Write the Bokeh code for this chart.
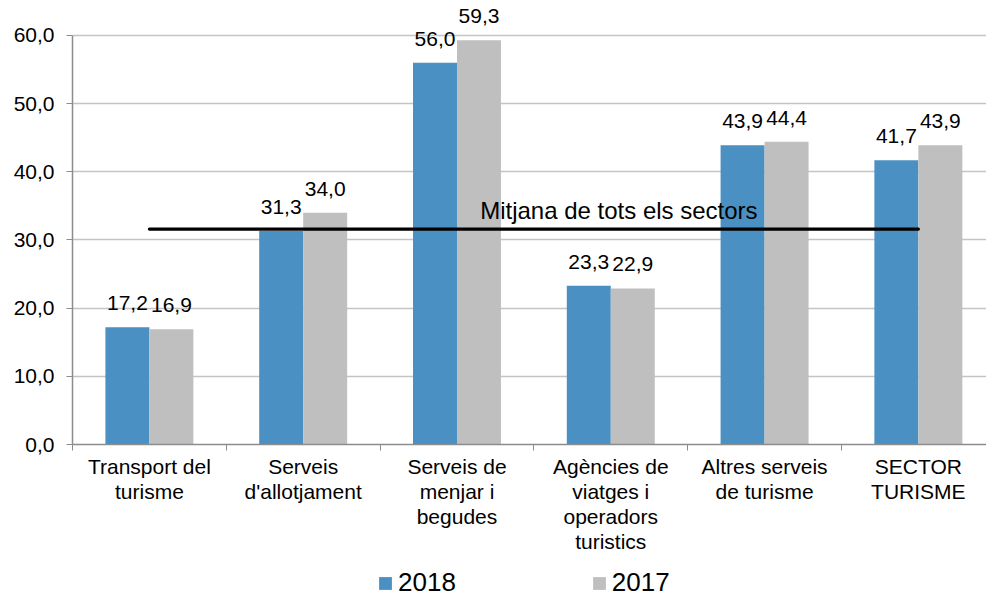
from bokeh.plotting import figure
from bokeh.layouts import column
from bokeh.models import ColumnDataSource, FixedTicker, Range1d, Legend, LegendItem
from bokeh.core.properties import value
from bokeh.embed import file_html
from bokeh.resources import INLINE

# ---------------- data ----------------
categories = [
    "Transport del\nturisme",
    "Serveis\nd'allotjament",
    "Serveis de\nmenjar i\nbegudes",
    "Agències de\nviatges i\noperadors\nturistics",
    "Altres serveis\nde turisme",
    "SECTOR\nTURISME",
]
values_2018 = [17.2, 31.3, 56.0, 23.3, 43.9, 41.7]
values_2017 = [16.9, 34.0, 59.3, 22.9, 44.4, 43.9]
series_names = ["2018", "2017"]
average_all = 31.6
average_label = "Mitjana de tots els sectors"
y_ticks = [0, 10, 20, 30, 40, 50, 60]
y_tick_labels = ["0,0", "10,0", "20,0", "30,0", "40,0", "50,0", "60,0"]

# ---------------- style ----------------
FONT = "Liberation Sans"
BLUE = "#4A90C3"
GREY = "#BFBFBF"
AXIS = "#8C8C8C"
GRID = "#C4C4C4"
BAR_W = 0.286
W = 986
H_MAIN = 566
H_LEG = 32

def fmt(v):
    return f"{v:.1f}".replace(".", ",")

n = len(categories)
centers = [i + 0.5 for i in range(n)]
src = ColumnDataSource(dict(
    x18=[c - BAR_W / 2 for c in centers],
    x17=[c + BAR_W / 2 for c in centers],
    v18=values_2018,
    v17=values_2017,
    l18=[fmt(v) for v in values_2018],
    l17=[fmt(v) for v in values_2017],
))

p = figure(width=W, height=H_MAIN, output_backend="svg", toolbar_location=None,
           x_range=Range1d(0, 5.943), y_range=Range1d(0, 65.13),
           min_border_left=72, min_border_right=0, min_border_top=0,
           min_border_bottom=H_MAIN - 444)
p.outline_line_color = None

r18 = p.vbar(x="x18", top="v18", width=BAR_W, source=src, fill_color=BLUE, line_color=None)
r17 = p.vbar(x="x17", top="v17", width=BAR_W, source=src, fill_color=GREY, line_color=None)

for xcol, lcol, vcol in (("x18", "l18", "v18"), ("x17", "l17", "v17")):
    p.text(x=xcol, y=vcol, text=lcol, source=src, text_align="center",
           text_baseline="alphabetic", y_offset=-24, text_font=value(FONT),
           text_font_size="21px", text_color="black")

# average line
p.line(x=[centers[0], centers[-1]], y=[average_all, average_all],
       line_width=3.2, line_color="black", line_cap="round")
mid = (centers[0] + centers[-1]) / 2
p.text(x=[mid], y=[average_all], text=[average_label], x_offset=85, y_offset=-18.5,
       text_align="center", text_baseline="alphabetic", text_font=value(FONT),
       text_font_size="24px", text_color="black")

# x axis
xa = p.xaxis[0]
xa.ticker = FixedTicker(ticks=centers, minor_ticks=list(range(n + 1)))
xa.major_label_overrides = {c: lab for c, lab in zip(centers, categories)}
xa.major_tick_line_color = None
xa.major_tick_out = 0
xa.major_tick_in = 0
xa.minor_tick_line_color = AXIS
xa.minor_tick_out = 6
xa.minor_tick_in = 0
xa.axis_line_color = AXIS
xa.axis_line_width = 1.5
xa.major_label_text_font = FONT
xa.major_label_text_font_size = "21px"
xa.major_label_text_color = "black"
xa.major_label_text_line_height = 1.1
xa.major_label_standoff = 4

# y axis
ya = p.yaxis[0]
ya.ticker = FixedTicker(ticks=y_ticks)
ya.major_label_overrides = {t: lab for t, lab in zip(y_ticks, y_tick_labels)}
ya.bounds = (y_ticks[0], y_ticks[-1])
ya.major_tick_out = 6
ya.major_tick_in = 0
ya.major_tick_line_color = AXIS
ya.minor_tick_line_color = None
ya.axis_line_color = AXIS
ya.axis_line_width = 1.5
ya.major_label_text_font = FONT
ya.major_label_text_font_size = "21px"
ya.major_label_text_color = "black"
ya.major_label_standoff = 12

p.xgrid.grid_line_color = None
p.ygrid.grid_line_color = GRID
p.ygrid.grid_line_width = 1.3

# legend strip below the chart (frame aligned with the main chart's frame)
pl = figure(width=W, height=H_LEG, output_backend="svg", toolbar_location=None,
            x_range=Range1d(0, 1), y_range=Range1d(0, 1), min_border=0,
            x_axis_location=None, y_axis_location=None)
pl.outline_line_color = None
pl.grid.visible = False
d18 = pl.vbar(x="x18", top="v18", width=BAR_W, source=src, fill_color=BLUE,
              line_color=None, visible=False)
d17 = pl.vbar(x="x17", top="v17", width=BAR_W, source=src, fill_color=GREY,
              line_color=None, visible=False)
legend = Legend(items=[LegendItem(label=series_names[0], renderers=[d18]),
                       LegendItem(label=series_names[1], renderers=[d17])],
                orientation="horizontal", location=(305, 0),
                glyph_width=16, glyph_height=16, label_standoff=5, spacing=135,
                padding=0, margin=0, border_line_color=None,
                background_fill_alpha=0, inactive_fill_alpha=0,
                label_text_font=FONT, label_height=26,
                label_text_font_size="26px", label_text_color="black")
pl.add_layout(legend)

open("out.html", "w").write(file_html(column(p, pl, spacing=0), INLINE))
